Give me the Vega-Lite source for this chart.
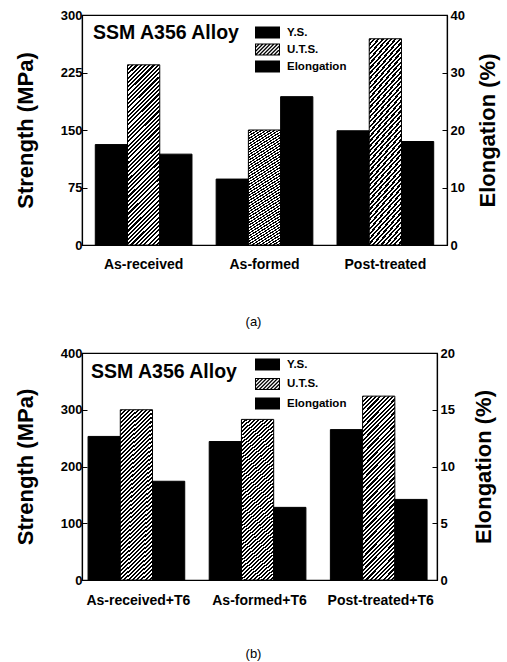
{
  "$schema": "https://vega.github.io/schema/vega-lite/v6.json",
  "padding": {"left": 13, "top": 8, "right": 2, "bottom": 0},
  "background": "white",
  "config": {
    "font": "Liberation Sans",
    "view": {"stroke": "black", "strokeWidth": 1.2},
    "axis": {"grid": false, "domainColor": "black", "domainWidth": 1.2, "tickColor": "black", "labelColor": "black", "titleColor": "black", "labelFont": "Liberation Sans", "labelFontWeight": "bold", "labelFontSize": 13, "titleFont": "Liberation Sans", "titleFontWeight": "bold", "titleFontSize": 22},
    "legend": {"orient": "none", "title": null, "padding": 0, "symbolSize": 625, "symbolStrokeWidth": 0, "symbolOpacity": 1, "symbolFillColor": "#000", "symbolOffset": 0, "labelFont": "Liberation Sans", "labelFontSize": 11.5, "labelFontWeight": "bold", "labelColor": "black", "labelOffset": 7, "clipHeight": 13},
    "title": {"font": "Liberation Sans", "fontSize": 19.5, "fontWeight": "bold", "color": "black", "anchor": "start", "frame": "group"}
  },
  "datasets": {
    "top": [
      {"category": "As-received", "series": "Y.S.", "value": 131},
      {"category": "As-received", "series": "U.T.S.", "value": 235},
      {"category": "As-received", "series": "Elongation", "value": 15.8},
      {"category": "As-formed", "series": "Y.S.", "value": 86},
      {"category": "As-formed", "series": "U.T.S.", "value": 150},
      {"category": "As-formed", "series": "Elongation", "value": 25.8},
      {"category": "Post-treated", "series": "Y.S.", "value": 149},
      {"category": "Post-treated", "series": "U.T.S.", "value": 269},
      {"category": "Post-treated", "series": "Elongation", "value": 18.0}
    ],
    "bottom": [
      {"category": "As-received+T6", "series": "Y.S.", "value": 253},
      {"category": "As-received+T6", "series": "U.T.S.", "value": 300},
      {"category": "As-received+T6", "series": "Elongation", "value": 8.7},
      {"category": "As-formed+T6", "series": "Y.S.", "value": 244},
      {"category": "As-formed+T6", "series": "U.T.S.", "value": 283},
      {"category": "As-formed+T6", "series": "Elongation", "value": 6.4},
      {"category": "Post-treated+T6", "series": "Y.S.", "value": 265},
      {"category": "Post-treated+T6", "series": "U.T.S.", "value": 324},
      {"category": "Post-treated+T6", "series": "Elongation", "value": 7.1}
    ]
  },
  "spacing": 17,
  "resolve": {"scale": {"shape": "independent"}, "legend": {"shape": "independent"}},
  "vconcat": [
    {
      "width": 365,
      "height": 230,
      "data": {"name": "top"},
      "title": {"text": "SSM A356 Alloy", "orient": "top", "offset": -34, "dx": 11},
      "layer": [
        {
          "transform": [{"filter": "datum.series !== 'Elongation'"}],
          "mark": {"type": "bar", "stroke": "black", "strokeWidth": 1},
          "encoding": {
            "x": {"field": "category", "type": "nominal", "sort": null, "scale": {"paddingInner": 0.2, "paddingOuter": 0.11}, "axis": {"title": "(a)", "labelAngle": 0, "ticks": false, "labelPadding": 12, "labelFontSize": 14, "titlePadding": 44, "titleFontWeight": "normal", "titleFontSize": 13, "titleX": 171}},
            "xOffset": {"field": "series", "type": "nominal", "sort": null, "scale": {"domain": ["Y.S.", "U.T.S.", "Elongation"], "paddingInner": 0, "paddingOuter": 0}},
            "y": {"field": "value", "type": "quantitative", "scale": {"domain": [0, 300], "nice": false}, "axis": {"values": [0, 75, 150, 225, 300], "title": "Strength (MPa)", "tickSize": -5, "labelPadding": 5, "titlePadding": 23}},
            "fill": {"value": "#000",
              "condition": {"test": "datum.series === 'U.T.S.'", "value": {"gradient": "linear", "x1": 0, "y1": 0, "x2": 0.203, "y2": 1.142, "stops": [
              {"offset":0,"color":"#000"},
              {"offset":0.01,"color":"#000"},{"offset":0.01,"color":"#fff"},{"offset":0.02,"color":"#fff"},{"offset":0.02,"color":"#000"},
              {"offset":0.03,"color":"#000"},{"offset":0.03,"color":"#fff"},{"offset":0.04,"color":"#fff"},{"offset":0.04,"color":"#000"},
              {"offset":0.05,"color":"#000"},{"offset":0.05,"color":"#fff"},{"offset":0.06,"color":"#fff"},{"offset":0.06,"color":"#000"},
              {"offset":0.07,"color":"#000"},{"offset":0.07,"color":"#fff"},{"offset":0.08,"color":"#fff"},{"offset":0.08,"color":"#000"},
              {"offset":0.09,"color":"#000"},{"offset":0.09,"color":"#fff"},{"offset":0.10,"color":"#fff"},{"offset":0.10,"color":"#000"},
              {"offset":0.11,"color":"#000"},{"offset":0.11,"color":"#fff"},{"offset":0.12,"color":"#fff"},{"offset":0.12,"color":"#000"},
              {"offset":0.13,"color":"#000"},{"offset":0.13,"color":"#fff"},{"offset":0.14,"color":"#fff"},{"offset":0.14,"color":"#000"},
              {"offset":0.15,"color":"#000"},{"offset":0.15,"color":"#fff"},{"offset":0.16,"color":"#fff"},{"offset":0.16,"color":"#000"},
              {"offset":0.17,"color":"#000"},{"offset":0.17,"color":"#fff"},{"offset":0.18,"color":"#fff"},{"offset":0.18,"color":"#000"},
              {"offset":0.19,"color":"#000"},{"offset":0.19,"color":"#fff"},{"offset":0.20,"color":"#fff"},{"offset":0.20,"color":"#000"},
              {"offset":0.21,"color":"#000"},{"offset":0.21,"color":"#fff"},{"offset":0.22,"color":"#fff"},{"offset":0.22,"color":"#000"},
              {"offset":0.23,"color":"#000"},{"offset":0.23,"color":"#fff"},{"offset":0.24,"color":"#fff"},{"offset":0.24,"color":"#000"},
              {"offset":0.25,"color":"#000"},{"offset":0.25,"color":"#fff"},{"offset":0.26,"color":"#fff"},{"offset":0.26,"color":"#000"},
              {"offset":0.27,"color":"#000"},{"offset":0.27,"color":"#fff"},{"offset":0.28,"color":"#fff"},{"offset":0.28,"color":"#000"},
              {"offset":0.29,"color":"#000"},{"offset":0.29,"color":"#fff"},{"offset":0.30,"color":"#fff"},{"offset":0.30,"color":"#000"},
              {"offset":0.31,"color":"#000"},{"offset":0.31,"color":"#fff"},{"offset":0.32,"color":"#fff"},{"offset":0.32,"color":"#000"},
              {"offset":0.33,"color":"#000"},{"offset":0.33,"color":"#fff"},{"offset":0.34,"color":"#fff"},{"offset":0.34,"color":"#000"},
              {"offset":0.35,"color":"#000"},{"offset":0.35,"color":"#fff"},{"offset":0.36,"color":"#fff"},{"offset":0.36,"color":"#000"},
              {"offset":0.37,"color":"#000"},{"offset":0.37,"color":"#fff"},{"offset":0.38,"color":"#fff"},{"offset":0.38,"color":"#000"},
              {"offset":0.39,"color":"#000"},{"offset":0.39,"color":"#fff"},{"offset":0.40,"color":"#fff"},{"offset":0.40,"color":"#000"},
              {"offset":0.41,"color":"#000"},{"offset":0.41,"color":"#fff"},{"offset":0.42,"color":"#fff"},{"offset":0.42,"color":"#000"},
              {"offset":0.43,"color":"#000"},{"offset":0.43,"color":"#fff"},{"offset":0.44,"color":"#fff"},{"offset":0.44,"color":"#000"},
              {"offset":0.45,"color":"#000"},{"offset":0.45,"color":"#fff"},{"offset":0.46,"color":"#fff"},{"offset":0.46,"color":"#000"},
              {"offset":0.47,"color":"#000"},{"offset":0.47,"color":"#fff"},{"offset":0.48,"color":"#fff"},{"offset":0.48,"color":"#000"},
              {"offset":0.49,"color":"#000"},{"offset":0.49,"color":"#fff"},{"offset":0.50,"color":"#fff"},{"offset":0.50,"color":"#000"},
              {"offset":0.51,"color":"#000"},{"offset":0.51,"color":"#fff"},{"offset":0.52,"color":"#fff"},{"offset":0.52,"color":"#000"},
              {"offset":0.53,"color":"#000"},{"offset":0.53,"color":"#fff"},{"offset":0.54,"color":"#fff"},{"offset":0.54,"color":"#000"},
              {"offset":0.55,"color":"#000"},{"offset":0.55,"color":"#fff"},{"offset":0.56,"color":"#fff"},{"offset":0.56,"color":"#000"},
              {"offset":0.57,"color":"#000"},{"offset":0.57,"color":"#fff"},{"offset":0.58,"color":"#fff"},{"offset":0.58,"color":"#000"},
              {"offset":0.59,"color":"#000"},{"offset":0.59,"color":"#fff"},{"offset":0.60,"color":"#fff"},{"offset":0.60,"color":"#000"},
              {"offset":0.61,"color":"#000"},{"offset":0.61,"color":"#fff"},{"offset":0.62,"color":"#fff"},{"offset":0.62,"color":"#000"},
              {"offset":0.63,"color":"#000"},{"offset":0.63,"color":"#fff"},{"offset":0.64,"color":"#fff"},{"offset":0.64,"color":"#000"},
              {"offset":0.65,"color":"#000"},{"offset":0.65,"color":"#fff"},{"offset":0.66,"color":"#fff"},{"offset":0.66,"color":"#000"},
              {"offset":0.67,"color":"#000"},{"offset":0.67,"color":"#fff"},{"offset":0.68,"color":"#fff"},{"offset":0.68,"color":"#000"},
              {"offset":0.69,"color":"#000"},{"offset":0.69,"color":"#fff"},{"offset":0.70,"color":"#fff"},{"offset":0.70,"color":"#000"},
              {"offset":0.71,"color":"#000"},{"offset":0.71,"color":"#fff"},{"offset":0.72,"color":"#fff"},{"offset":0.72,"color":"#000"},
              {"offset":0.73,"color":"#000"},{"offset":0.73,"color":"#fff"},{"offset":0.74,"color":"#fff"},{"offset":0.74,"color":"#000"},
              {"offset":0.75,"color":"#000"},{"offset":0.75,"color":"#fff"},{"offset":0.76,"color":"#fff"},{"offset":0.76,"color":"#000"},
              {"offset":0.77,"color":"#000"},{"offset":0.77,"color":"#fff"},{"offset":0.78,"color":"#fff"},{"offset":0.78,"color":"#000"},
              {"offset":0.79,"color":"#000"},{"offset":0.79,"color":"#fff"},{"offset":0.80,"color":"#fff"},{"offset":0.80,"color":"#000"},
              {"offset":0.81,"color":"#000"},{"offset":0.81,"color":"#fff"},{"offset":0.82,"color":"#fff"},{"offset":0.82,"color":"#000"},
              {"offset":0.83,"color":"#000"},{"offset":0.83,"color":"#fff"},{"offset":0.84,"color":"#fff"},{"offset":0.84,"color":"#000"},
              {"offset":0.85,"color":"#000"},{"offset":0.85,"color":"#fff"},{"offset":0.86,"color":"#fff"},{"offset":0.86,"color":"#000"},
              {"offset":0.87,"color":"#000"},{"offset":0.87,"color":"#fff"},{"offset":0.88,"color":"#fff"},{"offset":0.88,"color":"#000"},
              {"offset":0.89,"color":"#000"},{"offset":0.89,"color":"#fff"},{"offset":0.90,"color":"#fff"},{"offset":0.90,"color":"#000"},
              {"offset":0.91,"color":"#000"},{"offset":0.91,"color":"#fff"},{"offset":0.92,"color":"#fff"},{"offset":0.92,"color":"#000"},
              {"offset":0.93,"color":"#000"},{"offset":0.93,"color":"#fff"},{"offset":0.94,"color":"#fff"},{"offset":0.94,"color":"#000"},
              {"offset":0.95,"color":"#000"},{"offset":0.95,"color":"#fff"},{"offset":0.96,"color":"#fff"},{"offset":0.96,"color":"#000"},
              {"offset":0.97,"color":"#000"},{"offset":0.97,"color":"#fff"},{"offset":0.98,"color":"#fff"},{"offset":0.98,"color":"#000"},
              {"offset":0.99,"color":"#000"},{"offset":0.99,"color":"#fff"},{"offset":1,"color":"#fff"}
            ]}}}
          }
        },
        {
          "transform": [{"filter": "datum.series === 'Elongation'"}],
          "mark": {"type": "bar", "stroke": "black", "strokeWidth": 1, "fill": "#000"},
          "encoding": {
            "x": {"field": "category", "type": "nominal", "sort": null},
            "xOffset": {"field": "series", "type": "nominal", "sort": null},
            "y": {"field": "value", "type": "quantitative", "scale": {"domain": [0, 40], "nice": false}, "axis": {"orient": "right", "values": [0, 10, 20, 30, 40], "title": "Elongation (%)", "titleAngle": -90, "titleBaseline": "top", "tickSize": -5, "labelPadding": 8, "titlePadding": 13}}
          }
        },
        {
          "mark": {"type": "point", "filled": true, "color": "#000", "opacity": 0},
          "encoding": {
            "x": {"field": "category", "type": "nominal", "sort": null},
            "xOffset": {"field": "series", "type": "nominal", "sort": null},
            "shape": {"field": "series", "type": "nominal", "scale": {"domain": ["Y.S.", "U.T.S.", "Elongation"], "range": [
              "M-1,-0.48H1V0.48H-1Z",
              "M-1,-0.48H1V0.48H-1ZM-0.92,-0.4V0.4H0.92V-0.4ZM-1,-0.48L-0.852,-0.48L-1,-0.332ZM-0.704,-0.48L-0.556,-0.48L-1,-0.036L-1,-0.184ZM-0.408,-0.48L-0.26,-0.48L-1,0.26L-1,0.112ZM-0.112,-0.48L0.036,-0.48L-0.924,0.48L-1,0.48L-1,0.408ZM0.184,-0.48L0.332,-0.48L-0.628,0.48L-0.776,0.48ZM0.48,-0.48L0.628,-0.48L-0.332,0.48L-0.48,0.48ZM0.776,-0.48L0.924,-0.48L-0.036,0.48L-0.184,0.48ZM1,-0.408L1,-0.26L0.26,0.48L0.112,0.48ZM1,-0.112L1,0.036L0.556,0.48L0.408,0.48ZM1,0.184L1,0.332L0.852,0.48L0.704,0.48Z",
              "M-1,-0.48H1V0.48H-1Z"
            ]}, "legend": {"legendX": 173, "legendY": 11, "rowPadding": 4, "clipHeight": 13}}
          }
        }
      ],
      "resolve": {"scale": {"y": "independent"}}
    },
    {
      "width": 355,
      "height": 227,
      "data": {"name": "bottom"},
      "title": {"text": "SSM A356 Alloy", "orient": "top", "offset": -35, "dx": 9},
      "layer": [
        {
          "transform": [{"filter": "datum.series !== 'Elongation'"}],
          "mark": {"type": "bar", "stroke": "black", "strokeWidth": 1},
          "encoding": {
            "x": {"field": "category", "type": "nominal", "sort": null, "scale": {"paddingInner": 0.17, "paddingOuter": 0.05}, "axis": {"title": "(b)", "labelAngle": 0, "ticks": false, "labelPadding": 13, "labelFontSize": 14, "titlePadding": 40, "titleFontWeight": "normal", "titleFontSize": 13, "titleX": 171}},
            "xOffset": {"field": "series", "type": "nominal", "sort": null, "scale": {"domain": ["Y.S.", "U.T.S.", "Elongation"], "paddingInner": 0, "paddingOuter": 0}},
            "y": {"field": "value", "type": "quantitative", "scale": {"domain": [0, 400], "nice": false}, "axis": {"values": [0, 100, 200, 300, 400], "title": "Strength (MPa)", "tickSize": -5, "labelPadding": 5, "titlePadding": 23}},
            "fill": {"value": "#000",
              "condition": {"test": "datum.series === 'U.T.S.'", "value": {"gradient": "linear", "x1": 0, "y1": 0, "x2": 0.203, "y2": 1.142, "stops": [
              {"offset":0,"color":"#000"},
              {"offset":0.01,"color":"#000"},{"offset":0.01,"color":"#fff"},{"offset":0.02,"color":"#fff"},{"offset":0.02,"color":"#000"},
              {"offset":0.03,"color":"#000"},{"offset":0.03,"color":"#fff"},{"offset":0.04,"color":"#fff"},{"offset":0.04,"color":"#000"},
              {"offset":0.05,"color":"#000"},{"offset":0.05,"color":"#fff"},{"offset":0.06,"color":"#fff"},{"offset":0.06,"color":"#000"},
              {"offset":0.07,"color":"#000"},{"offset":0.07,"color":"#fff"},{"offset":0.08,"color":"#fff"},{"offset":0.08,"color":"#000"},
              {"offset":0.09,"color":"#000"},{"offset":0.09,"color":"#fff"},{"offset":0.10,"color":"#fff"},{"offset":0.10,"color":"#000"},
              {"offset":0.11,"color":"#000"},{"offset":0.11,"color":"#fff"},{"offset":0.12,"color":"#fff"},{"offset":0.12,"color":"#000"},
              {"offset":0.13,"color":"#000"},{"offset":0.13,"color":"#fff"},{"offset":0.14,"color":"#fff"},{"offset":0.14,"color":"#000"},
              {"offset":0.15,"color":"#000"},{"offset":0.15,"color":"#fff"},{"offset":0.16,"color":"#fff"},{"offset":0.16,"color":"#000"},
              {"offset":0.17,"color":"#000"},{"offset":0.17,"color":"#fff"},{"offset":0.18,"color":"#fff"},{"offset":0.18,"color":"#000"},
              {"offset":0.19,"color":"#000"},{"offset":0.19,"color":"#fff"},{"offset":0.20,"color":"#fff"},{"offset":0.20,"color":"#000"},
              {"offset":0.21,"color":"#000"},{"offset":0.21,"color":"#fff"},{"offset":0.22,"color":"#fff"},{"offset":0.22,"color":"#000"},
              {"offset":0.23,"color":"#000"},{"offset":0.23,"color":"#fff"},{"offset":0.24,"color":"#fff"},{"offset":0.24,"color":"#000"},
              {"offset":0.25,"color":"#000"},{"offset":0.25,"color":"#fff"},{"offset":0.26,"color":"#fff"},{"offset":0.26,"color":"#000"},
              {"offset":0.27,"color":"#000"},{"offset":0.27,"color":"#fff"},{"offset":0.28,"color":"#fff"},{"offset":0.28,"color":"#000"},
              {"offset":0.29,"color":"#000"},{"offset":0.29,"color":"#fff"},{"offset":0.30,"color":"#fff"},{"offset":0.30,"color":"#000"},
              {"offset":0.31,"color":"#000"},{"offset":0.31,"color":"#fff"},{"offset":0.32,"color":"#fff"},{"offset":0.32,"color":"#000"},
              {"offset":0.33,"color":"#000"},{"offset":0.33,"color":"#fff"},{"offset":0.34,"color":"#fff"},{"offset":0.34,"color":"#000"},
              {"offset":0.35,"color":"#000"},{"offset":0.35,"color":"#fff"},{"offset":0.36,"color":"#fff"},{"offset":0.36,"color":"#000"},
              {"offset":0.37,"color":"#000"},{"offset":0.37,"color":"#fff"},{"offset":0.38,"color":"#fff"},{"offset":0.38,"color":"#000"},
              {"offset":0.39,"color":"#000"},{"offset":0.39,"color":"#fff"},{"offset":0.40,"color":"#fff"},{"offset":0.40,"color":"#000"},
              {"offset":0.41,"color":"#000"},{"offset":0.41,"color":"#fff"},{"offset":0.42,"color":"#fff"},{"offset":0.42,"color":"#000"},
              {"offset":0.43,"color":"#000"},{"offset":0.43,"color":"#fff"},{"offset":0.44,"color":"#fff"},{"offset":0.44,"color":"#000"},
              {"offset":0.45,"color":"#000"},{"offset":0.45,"color":"#fff"},{"offset":0.46,"color":"#fff"},{"offset":0.46,"color":"#000"},
              {"offset":0.47,"color":"#000"},{"offset":0.47,"color":"#fff"},{"offset":0.48,"color":"#fff"},{"offset":0.48,"color":"#000"},
              {"offset":0.49,"color":"#000"},{"offset":0.49,"color":"#fff"},{"offset":0.50,"color":"#fff"},{"offset":0.50,"color":"#000"},
              {"offset":0.51,"color":"#000"},{"offset":0.51,"color":"#fff"},{"offset":0.52,"color":"#fff"},{"offset":0.52,"color":"#000"},
              {"offset":0.53,"color":"#000"},{"offset":0.53,"color":"#fff"},{"offset":0.54,"color":"#fff"},{"offset":0.54,"color":"#000"},
              {"offset":0.55,"color":"#000"},{"offset":0.55,"color":"#fff"},{"offset":0.56,"color":"#fff"},{"offset":0.56,"color":"#000"},
              {"offset":0.57,"color":"#000"},{"offset":0.57,"color":"#fff"},{"offset":0.58,"color":"#fff"},{"offset":0.58,"color":"#000"},
              {"offset":0.59,"color":"#000"},{"offset":0.59,"color":"#fff"},{"offset":0.60,"color":"#fff"},{"offset":0.60,"color":"#000"},
              {"offset":0.61,"color":"#000"},{"offset":0.61,"color":"#fff"},{"offset":0.62,"color":"#fff"},{"offset":0.62,"color":"#000"},
              {"offset":0.63,"color":"#000"},{"offset":0.63,"color":"#fff"},{"offset":0.64,"color":"#fff"},{"offset":0.64,"color":"#000"},
              {"offset":0.65,"color":"#000"},{"offset":0.65,"color":"#fff"},{"offset":0.66,"color":"#fff"},{"offset":0.66,"color":"#000"},
              {"offset":0.67,"color":"#000"},{"offset":0.67,"color":"#fff"},{"offset":0.68,"color":"#fff"},{"offset":0.68,"color":"#000"},
              {"offset":0.69,"color":"#000"},{"offset":0.69,"color":"#fff"},{"offset":0.70,"color":"#fff"},{"offset":0.70,"color":"#000"},
              {"offset":0.71,"color":"#000"},{"offset":0.71,"color":"#fff"},{"offset":0.72,"color":"#fff"},{"offset":0.72,"color":"#000"},
              {"offset":0.73,"color":"#000"},{"offset":0.73,"color":"#fff"},{"offset":0.74,"color":"#fff"},{"offset":0.74,"color":"#000"},
              {"offset":0.75,"color":"#000"},{"offset":0.75,"color":"#fff"},{"offset":0.76,"color":"#fff"},{"offset":0.76,"color":"#000"},
              {"offset":0.77,"color":"#000"},{"offset":0.77,"color":"#fff"},{"offset":0.78,"color":"#fff"},{"offset":0.78,"color":"#000"},
              {"offset":0.79,"color":"#000"},{"offset":0.79,"color":"#fff"},{"offset":0.80,"color":"#fff"},{"offset":0.80,"color":"#000"},
              {"offset":0.81,"color":"#000"},{"offset":0.81,"color":"#fff"},{"offset":0.82,"color":"#fff"},{"offset":0.82,"color":"#000"},
              {"offset":0.83,"color":"#000"},{"offset":0.83,"color":"#fff"},{"offset":0.84,"color":"#fff"},{"offset":0.84,"color":"#000"},
              {"offset":0.85,"color":"#000"},{"offset":0.85,"color":"#fff"},{"offset":0.86,"color":"#fff"},{"offset":0.86,"color":"#000"},
              {"offset":0.87,"color":"#000"},{"offset":0.87,"color":"#fff"},{"offset":0.88,"color":"#fff"},{"offset":0.88,"color":"#000"},
              {"offset":0.89,"color":"#000"},{"offset":0.89,"color":"#fff"},{"offset":0.90,"color":"#fff"},{"offset":0.90,"color":"#000"},
              {"offset":0.91,"color":"#000"},{"offset":0.91,"color":"#fff"},{"offset":0.92,"color":"#fff"},{"offset":0.92,"color":"#000"},
              {"offset":0.93,"color":"#000"},{"offset":0.93,"color":"#fff"},{"offset":0.94,"color":"#fff"},{"offset":0.94,"color":"#000"},
              {"offset":0.95,"color":"#000"},{"offset":0.95,"color":"#fff"},{"offset":0.96,"color":"#fff"},{"offset":0.96,"color":"#000"},
              {"offset":0.97,"color":"#000"},{"offset":0.97,"color":"#fff"},{"offset":0.98,"color":"#fff"},{"offset":0.98,"color":"#000"},
              {"offset":0.99,"color":"#000"},{"offset":0.99,"color":"#fff"},{"offset":1,"color":"#fff"}
            ]}}}
          }
        },
        {
          "transform": [{"filter": "datum.series === 'Elongation'"}],
          "mark": {"type": "bar", "stroke": "black", "strokeWidth": 1, "fill": "#000"},
          "encoding": {
            "x": {"field": "category", "type": "nominal", "sort": null},
            "xOffset": {"field": "series", "type": "nominal", "sort": null},
            "y": {"field": "value", "type": "quantitative", "scale": {"domain": [0, 20], "nice": false}, "axis": {"orient": "right", "values": [0, 5, 10, 15, 20], "title": "Elongation (%)", "titleAngle": -90, "titleBaseline": "top", "tickSize": -5, "labelPadding": 8, "titlePadding": 19}}
          }
        },
        {
          "mark": {"type": "point", "filled": true, "color": "#000", "opacity": 0},
          "encoding": {
            "x": {"field": "category", "type": "nominal", "sort": null},
            "xOffset": {"field": "series", "type": "nominal", "sort": null},
            "shape": {"field": "series", "type": "nominal", "scale": {"domain": ["Y.S.", "U.T.S.", "Elongation"], "range": [
              "M-1,-0.48H1V0.48H-1Z",
              "M-1,-0.48H1V0.48H-1ZM-0.92,-0.4V0.4H0.92V-0.4ZM-1,-0.48L-0.852,-0.48L-1,-0.332ZM-0.704,-0.48L-0.556,-0.48L-1,-0.036L-1,-0.184ZM-0.408,-0.48L-0.26,-0.48L-1,0.26L-1,0.112ZM-0.112,-0.48L0.036,-0.48L-0.924,0.48L-1,0.48L-1,0.408ZM0.184,-0.48L0.332,-0.48L-0.628,0.48L-0.776,0.48ZM0.48,-0.48L0.628,-0.48L-0.332,0.48L-0.48,0.48ZM0.776,-0.48L0.924,-0.48L-0.036,0.48L-0.184,0.48ZM1,-0.408L1,-0.26L0.26,0.48L0.112,0.48ZM1,-0.112L1,0.036L0.556,0.48L0.408,0.48ZM1,0.184L1,0.332L0.852,0.48L0.704,0.48Z",
              "M-1,-0.48H1V0.48H-1Z"
            ]}, "legend": {"legendX": 173, "legendY": 5, "rowPadding": 6.5, "clipHeight": 13}}
          }
        }
      ],
      "resolve": {"scale": {"y": "independent"}}
    }
  ]
}
